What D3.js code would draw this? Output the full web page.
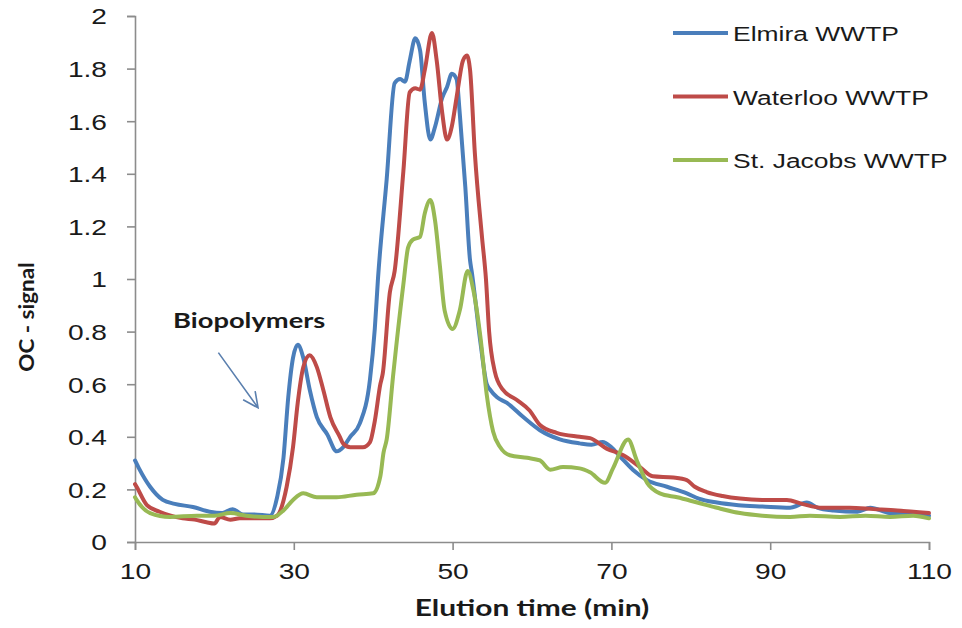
<!DOCTYPE html>
<html>
<head>
<meta charset="utf-8">
<script src="https://cdn.jsdelivr.net/npm/d3@7"></script>
<style>
  body { margin: 0; background: #fff; }
</style>
</head>
<body>
<div id="chart"></div>
<script>
// series (elution time in min, OC signal)
const elmiraTime = [10, 10.5, 11.9, 13.5, 15, 17.3, 19.4, 21, 22.3, 23.6, 25, 27, 27.9, 28.7, 29.3, 29.9, 30.5, 31.2, 32, 32.9, 34.2, 35.4, 36.2, 37.1, 38.3, 39.6, 40.2, 40.6, 41.7, 42.7, 43.4, 44, 44.6, 45.3, 45.9, 46.5, 47.2, 47.8, 48.7, 49.3, 49.9, 50.5, 50.9, 51.6, 52.2, 52.4, 53.5, 54.3, 54.7, 55.6, 56.8, 58.9, 61, 63.5, 66, 67.5, 68.9, 70, 71.1, 72.7, 74.5, 77, 79.5, 81, 83.3, 86, 89, 92.5, 94.6, 96, 98, 101, 102.6, 105, 108, 110];
const elmiraSignal = [0.31, 0.28, 0.21, 0.16, 0.145, 0.133, 0.115, 0.11, 0.125, 0.105, 0.105, 0.10, 0.17, 0.32, 0.55, 0.70, 0.75, 0.70, 0.58, 0.475, 0.41, 0.345, 0.36, 0.40, 0.45, 0.62, 0.81, 1.0, 1.38, 1.745, 1.76, 1.75, 1.83, 1.915, 1.87, 1.67, 1.53, 1.58, 1.69, 1.73, 1.78, 1.76, 1.63, 1.35, 1.07, 1.03, 0.76, 0.60, 0.58, 0.55, 0.53, 0.475, 0.425, 0.39, 0.375, 0.37, 0.38, 0.36, 0.325, 0.275, 0.235, 0.21, 0.185, 0.165, 0.15, 0.14, 0.135, 0.13, 0.15, 0.13, 0.12, 0.115, 0.13, 0.11, 0.105, 0.10];

const waterlooTime = [10, 10.2, 11.5, 13.1, 14.5, 16, 17.5, 19, 20, 20.7, 22, 23.2, 25, 27, 27.9, 29.1, 29.9, 30.5, 31.2, 32, 32.9, 33.7, 34.6, 35.8, 36.2, 37.1, 38.7, 39.6, 40.2, 40.9, 41.2, 42.1, 42.7, 43.8, 44.6, 45.3, 45.9, 46.5, 47.4, 48, 48.7, 49.3, 49.9, 50.5, 51.3, 51.8, 52.2, 52.8, 53.7, 54.2, 54.6, 55.3, 56.3, 58.1, 59.7, 61, 63.1, 66, 67.3, 69.4, 71.5, 73.6, 75.2, 77.8, 79.5, 80.5, 82, 84, 86.2, 89, 92.1, 94, 96.6, 100, 103, 106, 110];
const waterlooSignal = [0.22, 0.21, 0.14, 0.115, 0.10, 0.09, 0.085, 0.075, 0.07, 0.095, 0.085, 0.09, 0.09, 0.09, 0.10, 0.21, 0.36, 0.53, 0.665, 0.71, 0.665, 0.58, 0.475, 0.40, 0.375, 0.36, 0.36, 0.38, 0.46, 0.60, 0.64, 0.95, 1.03, 1.41, 1.71, 1.725, 1.72, 1.795, 1.935, 1.83, 1.63, 1.53, 1.58, 1.69, 1.83, 1.85, 1.795, 1.48, 1.16, 1.0, 0.80, 0.65, 0.58, 0.54, 0.50, 0.445, 0.415, 0.40, 0.395, 0.355, 0.33, 0.285, 0.25, 0.245, 0.235, 0.21, 0.19, 0.175, 0.165, 0.16, 0.16, 0.145, 0.13, 0.13, 0.125, 0.12, 0.11];

const jacobsTime = [10, 10.2, 11.9, 14.4, 17.8, 20, 22, 24, 26.1, 27.4, 28.7, 29.9, 31.2, 32.9, 35.4, 37.9, 40, 40.9, 41.3, 41.7, 42.5, 43.8, 44.4, 45, 45.9, 46.5, 47.2, 47.8, 48.4, 49, 50, 50.9, 51.9, 52.6, 53.5, 54.3, 55.1, 56, 57.2, 59.4, 61, 62.3, 63.9, 66, 67.3, 69.2, 70.2, 72.1, 73.2, 74.5, 76.1, 78.3, 80.8, 83.3, 86.2, 89, 92.5, 95, 98.8, 102, 105.1, 108, 110];
const jacobsSignal = [0.17, 0.16, 0.11, 0.095, 0.10, 0.10, 0.11, 0.10, 0.095, 0.095, 0.12, 0.16, 0.185, 0.17, 0.17, 0.18, 0.185, 0.25, 0.34, 0.39, 0.63, 0.98, 1.12, 1.15, 1.16, 1.25, 1.30, 1.22, 1.05, 0.88, 0.81, 0.88, 1.03, 0.96, 0.78, 0.56, 0.42, 0.36, 0.33, 0.32, 0.31, 0.275, 0.285, 0.28, 0.265, 0.225, 0.28, 0.39, 0.31, 0.225, 0.185, 0.17, 0.15, 0.13, 0.11, 0.10, 0.095, 0.10, 0.095, 0.10, 0.095, 0.10, 0.09];

const seriesNames = ["Elmira WWTP", "Waterloo WWTP", "St. Jacobs WWTP"];
const seriesColors = ["#4a7ebb", "#be4b48", "#98b954"];
const xTicks = [10, 30, 50, 70, 90, 110];
const yTicks = [0, 0.2, 0.4, 0.6, 0.8, 1, 1.2, 1.4, 1.6, 1.8, 2];

const series = [
    { name: seriesNames[0], color: seriesColors[0], points: d3.zip(elmiraTime, elmiraSignal) },
    { name: seriesNames[1], color: seriesColors[1], points: d3.zip(waterlooTime, waterlooSignal) },
    { name: seriesNames[2], color: seriesColors[2], points: d3.zip(jacobsTime, jacobsSignal) }
];

const width = 962;
const height = 628;
const margin = { top: 16, right: 33, bottom: 86, left: 135 };
const stretch = 1.28; // the source figure is widened horizontally

const svg = d3.select("#chart")
    .append("svg")
    .attr("width", width)
    .attr("height", height);

const xScale = d3.scaleLinear()
    .domain([10, 110])
    .range([margin.left, width - margin.right]);
const yScale = d3.scaleLinear()
    .domain([0, 2])
    .range([height - margin.bottom, margin.top]);

const xAxis = d3.axisBottom(xScale).tickValues(xTicks).tickSize(8).tickPadding(6).tickFormat(d3.format("d"));
const yAxis = d3.axisLeft(yScale).tickValues(yTicks).tickSize(8).tickPadding(20).tickFormat(d => String(+d.toFixed(1)));

const gx = svg.append("g")
    .attr("transform", `translate(0, ${height - margin.bottom})`)
    .call(xAxis);
const gy = svg.append("g")
    .attr("transform", `translate(${margin.left}, 0)`)
    .call(yAxis);

[gx, gy].forEach(g => {
    g.select(".domain").attr("stroke", "#8c8c8c").attr("stroke-width", 1.6);
    g.selectAll(".tick line").attr("stroke", "#8c8c8c").attr("stroke-width", 1.6);
    g.selectAll(".tick text")
        .attr("fill", "#1a1a1a")
        .style("font-family", "Liberation Sans, Arial, sans-serif")
        .style("font-size", "22px");
});
gx.selectAll(".tick text").attr("transform", `scale(${stretch},1)`).attr("dy", "1.05em");
gy.selectAll(".tick text").attr("transform", `scale(${stretch},1)`).attr("x", -28 / stretch).attr("dy", "0.36em");

const line = d3.line()
    .x(d => xScale(d[0]))
    .y(d => yScale(d[1]))
    .curve(d3.curveMonotoneX);

svg.append("g")
    .selectAll("path")
    .data(series)
    .enter()
    .append("path")
    .attr("d", d => line(d.points))
    .attr("fill", "none")
    .attr("stroke", d => d.color)
    .attr("stroke-width", 4)
    .attr("stroke-linejoin", "round")
    .attr("stroke-linecap", "round");

// axis titles
svg.append("text")
    .attr("transform", `translate(532, 616) scale(1.3,1)`)
    .attr("text-anchor", "middle")
    .style("font-family", "Lato, sans-serif")
    .style("font-weight", "bold")
    .style("font-size", "23px")
    .attr("fill", "#1a1a1a")
    .text("Elution time (min)");

svg.append("text")
    .attr("transform", `translate(34, 317) rotate(-90) scale(1.07,1)`)
    .attr("text-anchor", "middle")
    .style("font-family", "Lato, sans-serif")
    .style("font-weight", "bold")
    .style("font-size", "21px")
    .attr("fill", "#1a1a1a")
    .text("OC - signal");

// annotation
svg.append("text")
    .attr("transform", `translate(${xScale(14.8)}, ${yScale(0.815)}) scale(1.3,1)`)
    .style("font-family", "Lato, sans-serif")
    .style("font-weight", "bold")
    .style("font-size", "21px")
    .attr("fill", "#1a1a1a")
    .text("Biopolymers");

const arrowFrom = [20.5, 0.72];
const arrowTo = [25.5, 0.51];
const arrowColor = "#5a7fae";
const ax0 = xScale(arrowFrom[0]), ay0 = yScale(arrowFrom[1]);
const ax1 = xScale(arrowTo[0]), ay1 = yScale(arrowTo[1]);
const ang = Math.atan2(ay1 - ay0, ax1 - ax0);
const head = 17;
svg.append("path")
    .attr("d", `M${ax0},${ay0}L${ax1},${ay1}` +
        `M${ax1 - head * Math.cos(ang - 0.45)},${ay1 - head * Math.sin(ang - 0.45)}L${ax1},${ay1}` +
        `L${ax1 - head * Math.cos(ang + 0.45)},${ay1 - head * Math.sin(ang + 0.45)}`)
    .attr("fill", "none")
    .attr("stroke", arrowColor)
    .attr("stroke-width", 1.6);

// legend
const legend = svg.append("g")
    .attr("transform", "translate(673, 33)");
const items = legend.selectAll("g")
    .data(series)
    .enter()
    .append("g")
    .attr("transform", (d, i) => `translate(0, ${i * 63.5})`);
items.append("line")
    .attr("x1", 0).attr("x2", 55)
    .attr("stroke", d => d.color)
    .attr("stroke-width", 4);
items.append("text")
    .attr("transform", `translate(60, 8) scale(1.26,1)`)
    .style("font-family", "Liberation Sans, Arial, sans-serif")
    .style("font-size", "21px")
    .attr("fill", "#1a1a1a")
    .text(d => d.name);
</script>
</body>
</html>
